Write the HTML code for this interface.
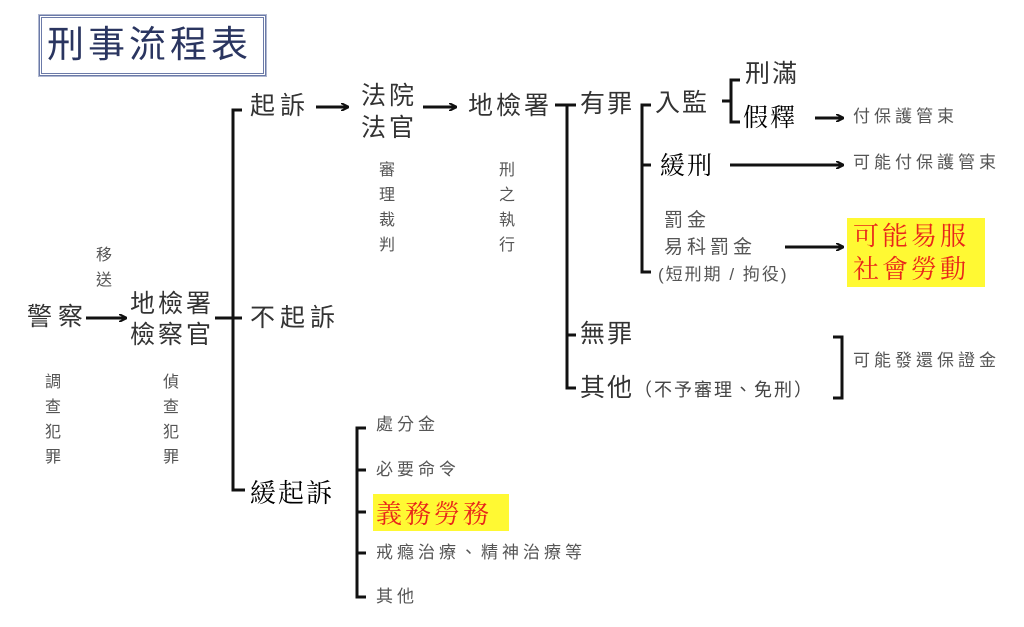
<!DOCTYPE html>
<html><head><meta charset="utf-8"><style>
body{margin:0;width:1024px;height:627px;background:#fff;position:relative;overflow:hidden;font-family:"Liberation Sans","Noto Sans CJK TC","Noto Sans CJK SC",sans-serif}
.t{position:absolute;white-space:nowrap;line-height:1;color:#333}
.b{font-size:25px;color:#333;letter-spacing:2px}
.s{font-size:17px;color:#555;letter-spacing:4px}
.k{color:#000;font-family:"Noto Serif CJK SC","Liberation Serif",serif}
.v{font-size:16px;color:#555;width:18px;line-height:25px;white-space:normal}
.y{position:absolute;background:#fff933;color:#e8261a;font-family:"Noto Serif CJK SC",serif;font-size:26px;line-height:33px;letter-spacing:3px}
</style></head><body>
<div style="position:absolute;left:39px;top:15px;width:221px;height:55px;border:3px double #6b7aa8;outline:1px solid #b0b8d0"></div>
<div class="t" style="left:47px;top:26px;font-size:37px;color:#2a3560;letter-spacing:4px">刑事流程表</div>
<svg width="1024" height="627" style="position:absolute;left:0;top:0">
<defs><marker id="a" markerWidth="8" markerHeight="8" refX="7" refY="4" orient="auto" markerUnits="userSpaceOnUse"><path d="M0,0 L8,4 L0,8" fill="none" stroke="#111" stroke-width="2"/></marker></defs>
<g stroke="#111" stroke-width="3" fill="none">
<path d="M242,110 H233 V490 H245"/><path d="M215,318 H242"/>
<path d="M555,105 H576"/><path d="M576,105 H567 V388 H576"/><path d="M567,335 H576"/>
<path d="M651,105 H642 V272 H651"/><path d="M642,165 H651"/>
<path d="M740,80 H731 V122 H740"/><path d="M722,101 H731"/>
<path d="M833,337 H842 V398 H833"/>
<path d="M366,428 H357 V597 H366"/><path d="M357,470 H366 M357,512 H366 M357,553 H366"/>
<path d="M86,318 H126" marker-end="url(#a)"/>
<path d="M316,107 H348" marker-end="url(#a)"/>
<path d="M423,107 H456" marker-end="url(#a)"/>
<path d="M815,118 H843" marker-end="url(#a)"/>
<path d="M730,165 H843" marker-end="url(#a)"/>
<path d="M785,247 H843" marker-end="url(#a)"/>
</g></svg>
<div class="t b" style="left:250px;top:94px;letter-spacing:5px">起訴</div>
<div class="t b" style="left:361px;top:80px;line-height:32px;letter-spacing:3px">法院<br>法官</div>
<div class="t b" style="left:468px;top:94px;letter-spacing:3px">地檢署</div>
<div class="t v" style="left:379px;top:158px">審理裁判</div>
<div class="t v" style="left:499px;top:158px">刑之執行</div>
<div class="t v" style="left:96px;top:243px">移送</div>
<div class="t b" style="left:27px;top:305px;letter-spacing:6px">警察</div>
<div class="t b" style="left:130px;top:289px;line-height:31px;letter-spacing:3px">地檢署<br>檢察官</div>
<div class="t b" style="left:250px;top:306px;letter-spacing:5px">不起訴</div>
<div class="t v" style="left:45px;top:370px">調查犯罪</div>
<div class="t v" style="left:163px;top:370px">偵查犯罪</div>
<div class="t b" style="left:580px;top:92px">有罪</div>
<div class="t b" style="left:655px;top:91px">入監</div>
<div class="t b" style="left:745px;top:62px">刑滿</div>
<div class="t b k" style="left:743px;top:104px">假釋</div>
<div class="t s" style="left:853px;top:108px">付保護管束</div>
<div class="t b k" style="left:660px;top:152px">緩刑</div>
<div class="t s" style="left:853px;top:154px">可能付保護管束</div>
<div class="t s" style="left:664px;top:211px;font-size:19px">罰金</div>
<div class="t s" style="left:664px;top:238px;font-size:19px">易科罰金</div>
<div class="t s" style="left:658px;top:266px;letter-spacing:2px">(短刑期 / 拘役)</div>
<div class="y" style="left:847px;top:218px;width:138px;height:69px;padding-left:6px;box-sizing:border-box">可能易服<br>社會勞動</div>
<div class="t b" style="left:580px;top:322px">無罪</div>
<div class="t b" style="left:580px;top:376px">其他<span style="font-size:18px;color:#444">（不予審理、免刑）</span></div>
<div class="t s" style="left:853px;top:352px">可能發還保證金</div>
<div class="t b k" style="left:250px;top:479px;font-size:26px">緩起訴</div>
<div class="t s" style="left:376px;top:416px">處分金</div>
<div class="t s" style="left:376px;top:461px">必要命令</div>
<div class="y" style="left:373px;top:494px;width:136px;height:37px;padding-left:3px;box-sizing:border-box;line-height:37px">義務勞務</div>
<div class="t s" style="left:376px;top:544px">戒瘾治療、精神治療等</div>
<div class="t s" style="left:376px;top:588px">其他</div>
</body></html>
